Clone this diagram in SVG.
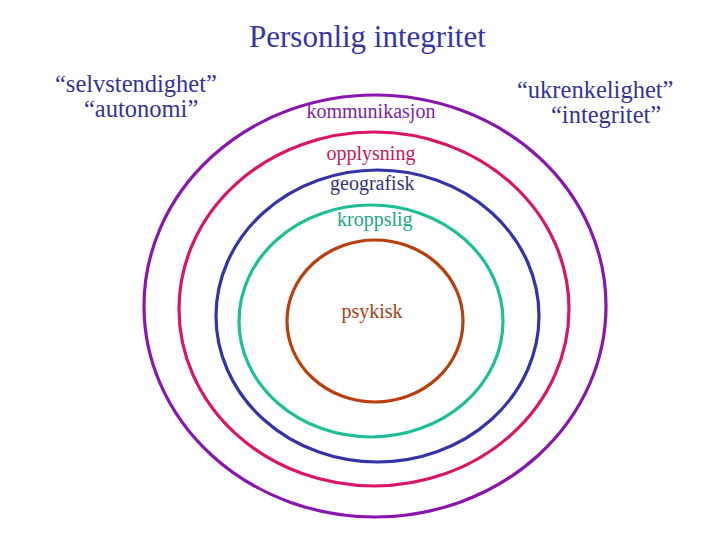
<svg xmlns="http://www.w3.org/2000/svg" width="720" height="540" viewBox="0 0 720 540">
<rect width="720" height="540" fill="#ffffff"/>
<g id="title">
<text x="249" y="47" font-size="31" fill="#3535a8" font-family="Liberation Serif">Personlig integritet</text>
</g>
<g id="left-text">
<text x="55" y="92" font-size="24.5" fill="#333399" font-family="Liberation Serif">&#8220;selvstendighet&#8221;</text>
<text x="84" y="117" font-size="24.5" fill="#333399" font-family="Liberation Serif">&#8220;autonomi&#8221;</text>
</g>
<g id="right-text">
<text x="517" y="98" font-size="24.5" fill="#333399" font-family="Liberation Serif">&#8220;ukrenkelighet&#8221;</text>
<text x="551" y="123" font-size="24.5" fill="#333399" font-family="Liberation Serif">&#8220;integritet&#8221;</text>
</g>
<g id="ring-kommunikasjon">
<ellipse cx="375" cy="306" rx="231" ry="211" fill="none" stroke-width="3.2" stroke="#8a16b0"/>
<text x="306.5" y="118" font-size="20" fill="#7d1ea8" font-family="Liberation Serif">kommunikasjon</text>
</g>
<g id="ring-opplysning">
<ellipse cx="374" cy="309" rx="195" ry="177" fill="none" stroke-width="3.2" stroke="#da1467"/>
<text x="326.5" y="160" font-size="20" fill="#c8185a" font-family="Liberation Serif">opplysning</text>
</g>
<g id="ring-geografisk">
<ellipse cx="377.5" cy="316" rx="161.5" ry="146" fill="none" stroke-width="3.2" stroke="#3434a8"/>
<text x="330" y="190" font-size="20" fill="#333380" font-family="Liberation Serif">geografisk</text>
</g>
<g id="ring-kroppslig">
<ellipse cx="371" cy="321" rx="132" ry="116" fill="none" stroke-width="3.2" stroke="#1ebf98"/>
<text x="337" y="226" font-size="20" fill="#1aa884" font-family="Liberation Serif">kroppslig</text>
</g>
<g id="ring-psykisk">
<ellipse cx="375" cy="321" rx="88" ry="81" fill="none" stroke-width="3.2" stroke="#b8400e"/>
<text x="341.5" y="318" font-size="20" fill="#a8400f" font-family="Liberation Serif">psykisk</text>
</g>
<g id="connectors"></g>
</svg>
